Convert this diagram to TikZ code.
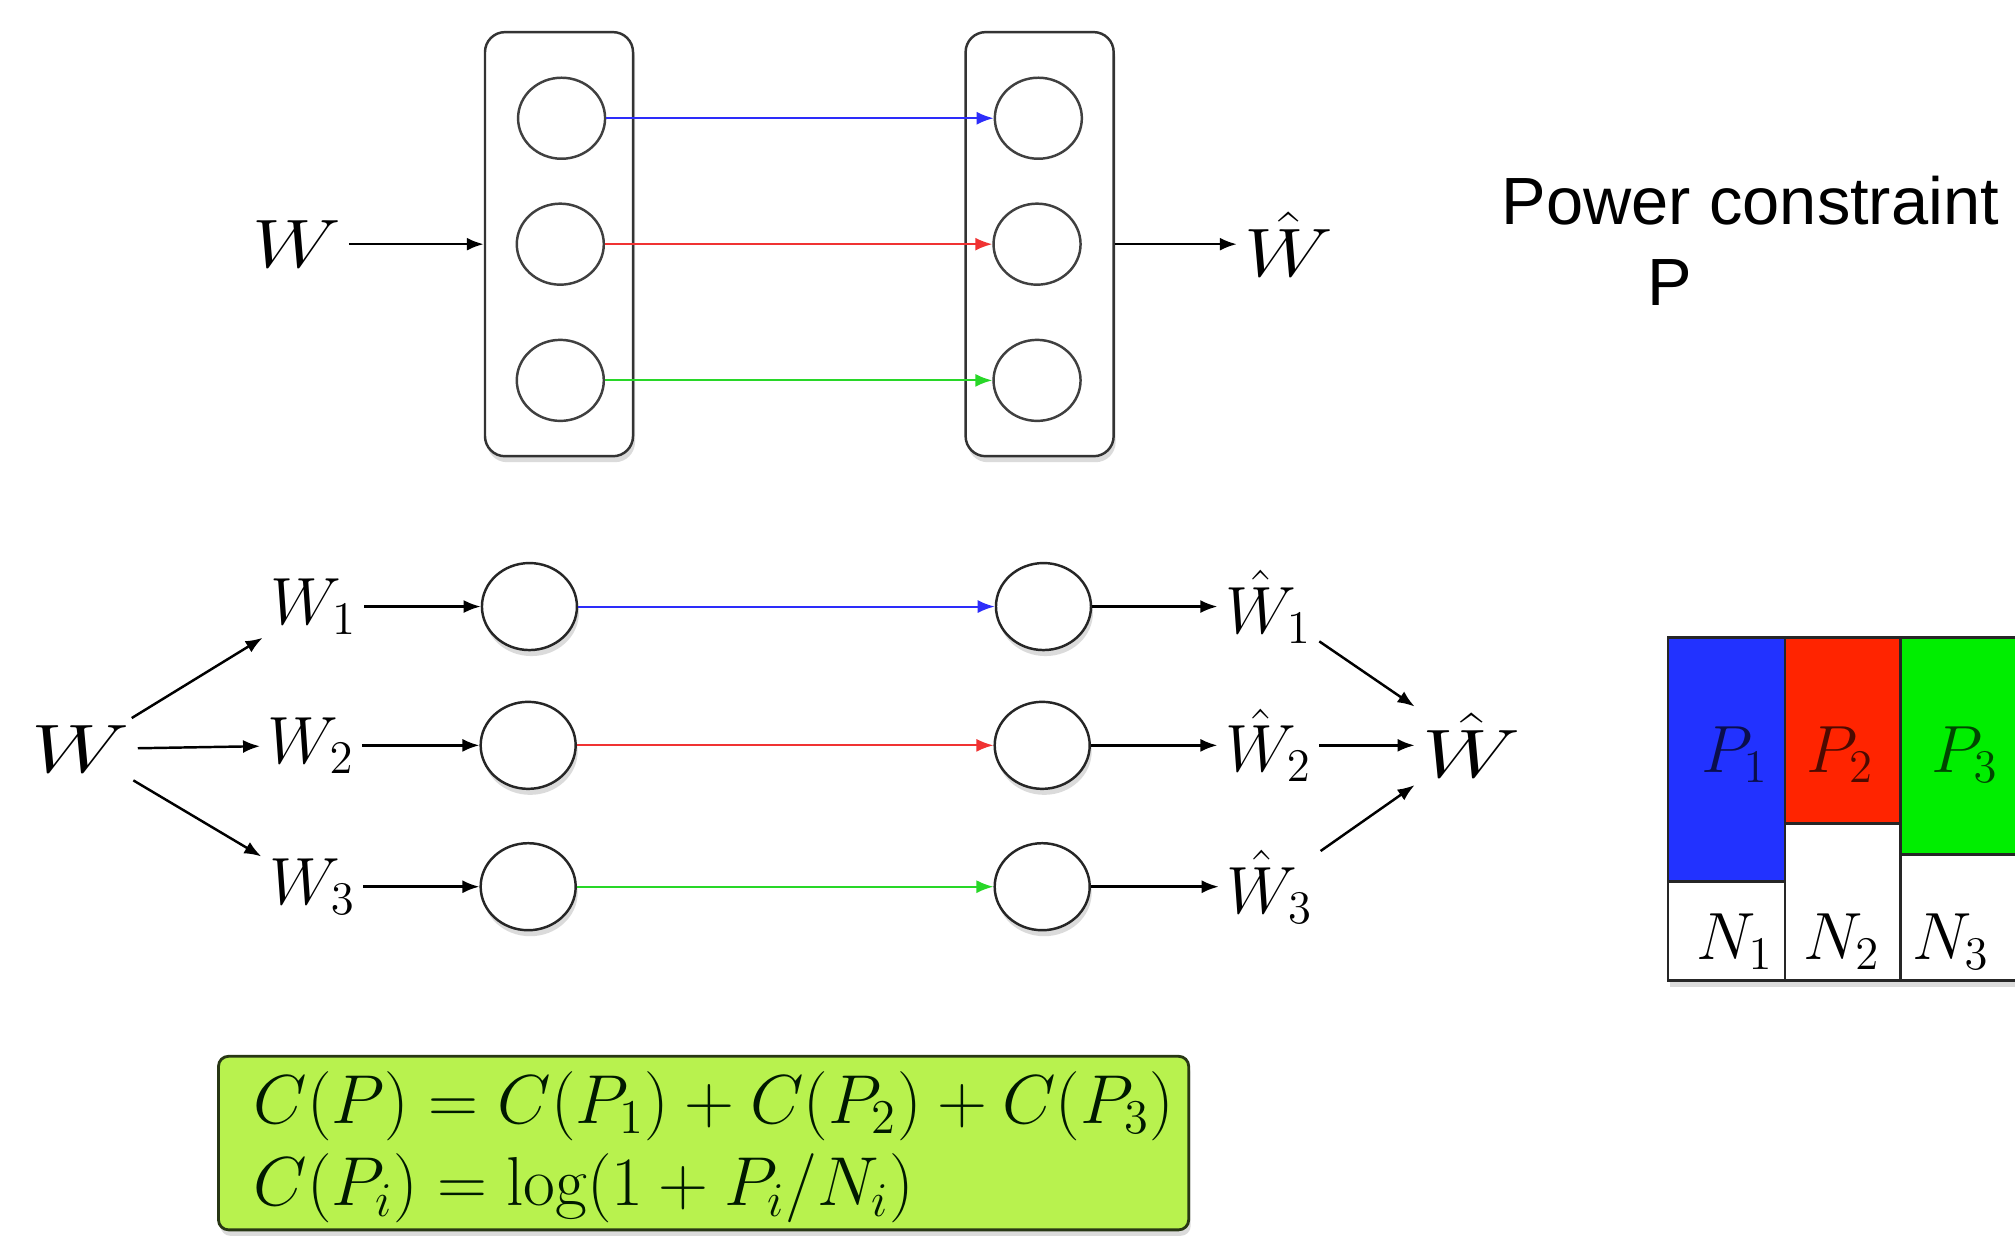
\RequirePackage{fix-cm}
\documentclass[tikz,border=0pt]{standalone}
\usepackage{fontspec}
\newfontfamily\pcfont{Liberation Sans}
\usetikzlibrary{arrows.meta,shapes.geometric,shadows,calc}
\definecolor{cblue}{RGB}{45,45,250}
\definecolor{cred}{RGB}{240,50,50}
\definecolor{cgreen}{RGB}{40,215,40}
\definecolor{pblue}{RGB}{34,50,255}
\definecolor{pred}{RGB}{255,36,0}
\definecolor{pgreen}{RGB}{0,238,0}
\definecolor{lime}{RGB}{184,242,78}
\definecolor{limeborder}{RGB}{40,55,20}
\begin{document}
\begin{tikzpicture}[x=0.01285cm,y=-0.01285cm,
  every node/.style={font=\fontsize{19}{23}\selectfont},
  lbl/.style={inner sep=2pt},
  bigW/.style={inner sep=2pt,font=\fontsize{19.5}{23}\selectfont},
  arr/.style={line width=0.7pt,-{Latex[length=0.17cm,width=0.13cm]}},
  carr/.style={line width=0.6pt,-{Latex[length=0.17cm,width=0.13cm]}},
  softshadow/.style={drop shadow={shadow xshift=0.02cm,shadow yshift=-0.06cm,opacity=0.28}},
  chbox/.style={draw=black!80,line width=0.7pt,rounded corners=0.2cm,fill=white,
    minimum width=1.48cm,minimum height=4.24cm,softshadow},
  tcirc/.style={ellipse,draw=black!75,line width=0.7pt,fill=white,
    minimum width=0.87cm,minimum height=0.81cm,inner sep=0pt},
  mcirc/.style={ellipse,draw=black!85,line width=0.7pt,fill=white,
    minimum width=0.95cm,minimum height=0.87cm,inner sep=0pt,softshadow},
  plabel/.style={text opacity=0.7},
]
\clip (0,0) rectangle (1568,962);
\fill[white] (0,0) rectangle (1568,962);

% ---------- top: joint coding ----------
\node[chbox] (boxL) at (435,190) {};
\node[chbox] (boxR) at (809,190) {};
\node[tcirc] (tL1) at (437,92) {};
\node[tcirc] (tL2) at (436,190) {};
\node[tcirc] (tL3) at (436,296) {};
\node[tcirc] (tR1) at (808,92) {};
\node[tcirc] (tR2) at (807,190) {};
\node[tcirc] (tR3) at (807,296) {};
\draw[carr,cblue]  (tL1.east) -- (tR1.west);
\draw[carr,cred]   (tL2.east) -- (tR2.west);
\draw[carr,cgreen] (tL3.east) -- (tR3.west);

\node[bigW] (Wt) at (231,190) {\scalebox{1.22}[1]{$W$}};
\node[bigW] (Wht) at (1003,190) {\scalebox{1.22}[1]{$\hat{W}$}};
\draw[arr] (Wt) -- (boxL.west);
\draw[arr] (boxR.east) -- (Wht);

\node[font=\pcfont\fontsize{19}{23}\selectfont] (pc) at (1362,156) {Power constraint};
\node[font=\pcfont\fontsize{19}{23}\selectfont] (pcP) at (1299,220) {P};

% ---------- middle: parallel channels ----------
\node[bigW] (Wm) at (63,583) {\scalebox{1.35}[1]{$W$}};
\node[lbl] (W1) at (244,472) {$W_1$};
\node[lbl] (W2) at (242,580) {$W_2$};
\node[lbl] (W3) at (243,690) {$W_3$};
\node[mcirc] (mL1) at (412,472) {};
\node[mcirc] (mL2) at (411,580) {};
\node[mcirc] (mL3) at (411,690) {};
\node[mcirc] (mR1) at (812,472) {};
\node[mcirc] (mR2) at (811,580) {};
\node[mcirc] (mR3) at (811,690) {};
\node[lbl] (Wh1) at (987,472) {$\hat{W}_1$};
\node[lbl] (Wh2) at (987,580) {$\hat{W}_2$};
\node[lbl] (Wh3) at (988,690) {$\hat{W}_3$};
\node[bigW] (Wh) at (1145,580) {\scalebox{1.35}[1]{$\hat{W}$}};

\draw[arr] (Wm) -- (W1);
\draw[arr] (Wm) -- (W2);
\draw[arr] (Wm) -- (W3);
\draw[arr] (W1) -- (mL1);
\draw[arr] (W2) -- (mL2);
\draw[arr] (W3) -- (mL3);
\draw[carr,cblue]  (mL1) -- (mR1);
\draw[carr,cred]   (mL2) -- (mR2);
\draw[carr,cgreen] (mL3) -- (mR3);
\draw[arr] (mR1) -- (Wh1);
\draw[arr] (mR2) -- (Wh2);
\draw[arr] (mR3) -- (Wh3);
\draw[arr] (Wh1) -- (Wh);
\draw[arr] (Wh2) -- (Wh);
\draw[arr] (Wh3) -- (Wh);

% ---------- water-filling bars ----------
\fill[white,softshadow] (1298,496) rectangle (1590,763);
\fill[pblue]  (1298,496) rectangle (1389,686);
\fill[pred]   (1389,496) rectangle (1479,641);
\fill[pgreen] (1479,496) rectangle (1590,665);
\draw[line width=0.8pt,black!85] (1298,496) rectangle (1590,763);
\draw[line width=0.8pt,black!85] (1389,496) -- (1389,763);
\draw[line width=0.8pt,black!85] (1479,496) -- (1479,763);
\draw[line width=0.8pt,black!85] (1298,686) -- (1389,686);
\draw[line width=0.8pt,black!85] (1389,641) -- (1479,641);
\draw[line width=0.8pt,black!85] (1479,665) -- (1590,665);
\node[plabel] (P1) at (1350,587) {$P_1$};
\node[plabel] (P2) at (1432,587) {$P_2$};
\node[plabel] (P3) at (1529,587) {$P_3$};
\node (N1) at (1350,733) {$N_1$};
\node (N2) at (1433,733) {$N_2$};
\node (N3) at (1518,733) {$N_3$};

% ---------- capacity formula ----------
\node[draw=limeborder,fill=lime,line width=0.8pt,rounded corners=0.1cm,
  minimum width=9.70cm,minimum height=1.735cm,softshadow] (fbox) at (547.5,889.5) {};
\node[anchor=west,align=left,inner sep=0pt,text=black!90!green,font=\fontsize{19.7}{23.5}\selectfont] (ftext) at ([xshift=0.36cm,yshift=-0.04cm]fbox.west)
  {$C(P) = C(P_1) + C(P_2) + C(P_3)$\\$C(P_i) = \log(1 + P_i/N_i)$};
\end{tikzpicture}
\end{document}
